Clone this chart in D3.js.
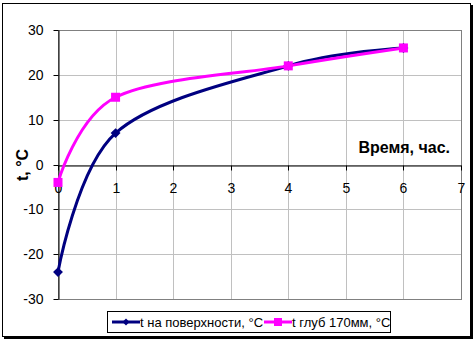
<!DOCTYPE html>
<html>
<head>
<meta charset="utf-8">
<script src="https://cdn.jsdelivr.net/npm/d3@7.9.0/dist/d3.min.js"></script>
<style>
  body { margin: 0; background: #fff; }
  svg { display: block; font-family: Arial, "Liberation Sans", sans-serif; }
</style>
</head>
<body>
<svg id="chart" width="474" height="341"></svg>
<script>
// data
const hours = [0, 1, 4, 6];
const surfaceTemp = [-24, 7, 22, 26];
const depthTemp = [-4, 15, 22, 26];
const seriesNames = ['t на поверхности, °C', 't глуб 170мм, °C'];
const xTicks = [0, 1, 2, 3, 4, 5, 6, 7];
const yTicks = [-30, -20, -10, 0, 10, 20, 30];

const svg = d3.select('#chart');
const fmt = d => String(d); // plain hyphen minus, no decimals

// outer chart frame with a small shadow
svg.append('rect').attr('x', 4).attr('y', 5).attr('width', 469).attr('height', 334).attr('fill', '#000');
svg.append('rect').attr('x', 2.5).attr('y', 3.5).attr('width', 468).attr('height', 333)
  .attr('fill', '#fff').attr('stroke', '#000');

const x = d3.scaleLinear().domain([0, 7]).range([58, 461]);
const y = d3.scaleLinear().domain([-30, 30]).range([299, 30]);

// gridlines
const grid = svg.append('g').attr('stroke', '#c0c0c0').attr('stroke-width', 1);
xTicks.slice(1).forEach(t => {
  grid.append('line').attr('x1', Math.round(x(t)) + 0.5).attr('x2', Math.round(x(t)) + 0.5)
    .attr('y1', y(30)).attr('y2', y(-30));
});
yTicks.forEach(t => {
  grid.append('line').attr('x1', x(0)).attr('x2', x(7))
    .attr('y1', Math.round(y(t)) + 0.5).attr('y2', Math.round(y(t)) + 0.5);
});
// plot area border (gray)
svg.append('rect').attr('x', x(0) + 0.5).attr('y', Math.round(y(30)) + 0.5)
  .attr('width', x(7) - x(0)).attr('height', Math.round(y(-30)) - Math.round(y(30)))
  .attr('fill', 'none').attr('stroke', '#808080');

// y axis
const yAxis = svg.append('g').attr('transform', `translate(${x(0) + 0.5},0)`)
  .call(d3.axisLeft(y).tickValues(yTicks).tickFormat(fmt).tickSize(5).tickPadding(10).tickSizeOuter(0));
yAxis.select('.domain').attr('stroke', '#000');
yAxis.selectAll('.tick line').attr('stroke', '#000');
yAxis.selectAll('text').attr('font-size', 14).attr('font-family', 'Arial, "Liberation Sans", sans-serif')
  .attr('fill', '#000');
yAxis.selectAll('.tick').attr('transform', d => `translate(0,${Math.round(y(d)) + 0.5})`);

// x axis through zero
const xAxis = svg.append('g').attr('transform', `translate(0,${Math.round(y(0)) + 0.5})`)
  .call(d3.axisBottom(x).tickValues(xTicks).tickFormat(fmt).tickSize(5).tickPadding(13).tickSizeOuter(0));
xAxis.select('.domain').attr('stroke', '#000');
xAxis.selectAll('.tick line').attr('stroke', '#000');
xAxis.selectAll('text').attr('font-size', 14).attr('font-family', 'Arial, "Liberation Sans", sans-serif')
  .attr('fill', '#000');
xAxis.selectAll('.tick').attr('transform', d => `translate(${Math.round(x(d)) + 0.5},0)`);

// axis titles
svg.append('text').attr('x', 450).attr('y', 153).attr('text-anchor', 'end')
  .attr('font-size', 16).attr('font-weight', 'bold').text('Время, час.');
svg.append('text').attr('transform', 'translate(28,165) rotate(-90)').attr('text-anchor', 'middle')
  .attr('font-size', 16).attr('font-weight', 'bold').text('t, °C');

// series
const line = d3.line().x(d => x(d[0])).y(d => y(d[1])).curve(d3.curveCatmullRom.alpha(0));
const surface = hours.map((h, i) => [h, surfaceTemp[i]]);
const depth = hours.map((h, i) => [h, depthTemp[i]]);

svg.append('path').datum(surface).attr('d', line).attr('fill', 'none')
  .attr('stroke', '#000080').attr('stroke-width', 3);
svg.selectAll('.dia').data(surface).join('path').attr('class', 'dia')
  .attr('transform', d => `translate(${x(d[0])},${y(d[1])}) rotate(45)`)
  .attr('d', 'M-3.5,-3.5H3.5V3.5H-3.5Z').attr('fill', '#000080');

svg.append('path').datum(depth).attr('d', line).attr('fill', 'none')
  .attr('stroke', '#ff00ff').attr('stroke-width', 3);
svg.selectAll('.sq').data(depth).join('rect').attr('class', 'sq')
  .attr('x', d => x(d[0]) - 4.5).attr('y', d => y(d[1]) - 4.5)
  .attr('width', 9).attr('height', 9).attr('fill', '#ff00ff');

// legend
const leg = svg.append('g');
leg.append('rect').attr('x', 107.5).attr('y', 311.5).attr('width', 283).attr('height', 21)
  .attr('fill', '#fff').attr('stroke', '#000');
const legX = [112, 264];
const legColors = ['#000080', '#ff00ff'];
seriesNames.forEach((name, i) => {
  const lx = legX[i];
  leg.append('line').attr('x1', lx).attr('x2', lx + 28).attr('y1', 322).attr('y2', 322)
    .attr('stroke', legColors[i]).attr('stroke-width', 3);
  if (i === 0) {
    leg.append('path').attr('transform', `translate(${lx + 14},322) rotate(45)`)
      .attr('d', 'M-2.5,-2.5H2.5V2.5H-2.5Z').attr('fill', legColors[i]);
  } else {
    leg.append('rect').attr('x', lx + 10).attr('y', 318).attr('width', 8).attr('height', 8)
      .attr('fill', legColors[i]);
  }
  leg.append('text').attr('x', lx + 28).attr('y', 327).attr('font-size', 13)
    .attr('fill', '#000').text(name);
});
</script>
</body>
</html>
